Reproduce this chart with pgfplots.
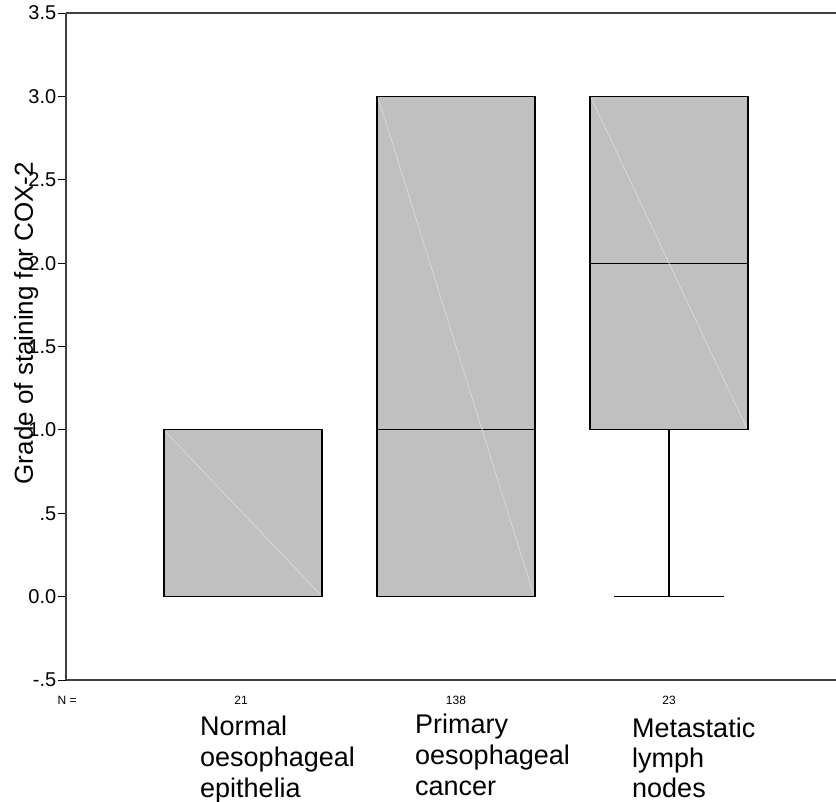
\documentclass[border=0pt]{standalone}
\usepackage{fontspec}
\setmainfont{Liberation Sans}
\usepackage{pgfplots}
\pgfplotsset{compat=1.18}
\usepgfplotslibrary{statistics}
\definecolor{boxgray}{HTML}{C0C0C0}
\definecolor{diaggray}{HTML}{DCDCDC}
\definecolor{axisgray}{HTML}{404040}
\begin{document}
\begin{tikzpicture}
\begin{axis}[
  at={(0pt,0pt)}, anchor=south west,
  width=770pt, height=667pt, scale only axis,
  xmin=0.169, xmax=3.784,
  ymin=-0.5, ymax=3.5,
  axis x line*=box, axis y line*=left,
  axis line style={draw=axisgray, line width=1.4pt},
  xtick=\empty,
  ytick={-0.5,0,0.5,1,1.5,2,2.5,3,3.5},
  yticklabels={-.5,0.0,.5,1.0,1.5,2.0,2.5,3.0,3.5},
  tick align=outside, ytick pos=left,
  major tick length=8pt,
  tick style={draw=black, line width=0.9pt},
  yticklabel style={font=\fontsize{20}{24}\selectfont, inner sep=1.5pt},
  clip=false,
  boxplot/draw direction=y,
]
\addplot+[mark=none, fill=boxgray, draw=black, line width=1.1pt,
  boxplot prepared={draw position=1, lower whisker=0, lower quartile=0,
    median=1, upper quartile=1, upper whisker=1,
    box extend=0.742, whisker extend=0.516}] coordinates {};
\addplot+[mark=none, fill=boxgray, draw=black, line width=1.1pt,
  boxplot prepared={draw position=2, lower whisker=0, lower quartile=0,
    median=1, upper quartile=3, upper whisker=3,
    box extend=0.742, whisker extend=0.516}] coordinates {};
\addplot+[mark=none, fill=boxgray, draw=black, line width=1.1pt,
  boxplot prepared={draw position=3, lower whisker=0, lower quartile=1,
    median=2, upper quartile=3, upper whisker=3,
    box extend=0.742, whisker extend=0.516}] coordinates {};
% faint diagonal artefacts inside the boxes
\addplot[draw=diaggray, line width=0.7pt] coordinates {(0.635,0.99) (1.365,0.01)};
\addplot[draw=diaggray, line width=0.7pt] coordinates {(1.635,2.99) (2.365,0.01)};
\addplot[draw=diaggray, line width=0.7pt] coordinates {(2.635,2.99) (3.365,1.01)};
% N row
\node[xshift=-12pt, yshift=-25pt, anchor=base west, font=\fontsize{12}{14}\selectfont] at (rel axis cs:0,0) {N =};
\node[xshift=-2pt, yshift=-25pt, anchor=base, font=\fontsize{12}{14}\selectfont] at (axis cs:1,-0.5) {21};
\node[yshift=-25pt, anchor=base, font=\fontsize{12}{14}\selectfont] at (axis cs:2,-0.5) {138};
\node[yshift=-25pt, anchor=base, font=\fontsize{12}{14}\selectfont] at (axis cs:3,-0.5) {23};
% category labels
\node[xshift=-43pt, yshift=-36pt, anchor=north west, align=left, inner sep=0pt, font=\fontsize{27}{31}\selectfont] at (axis cs:1,-0.5) {Normal\\oesophageal\\epithelia};
\node[xshift=-41pt, yshift=-34pt, anchor=north west, align=left, inner sep=0pt, font=\fontsize{27}{31}\selectfont] at (axis cs:2,-0.5) {Primary\\oesophageal\\cancer};
\node[xshift=-37pt, yshift=-38pt, anchor=north west, align=left, inner sep=0pt, font=\fontsize{27}{30}\selectfont] at (axis cs:3,-0.5) {Metastatic\\lymph\\nodes};
% y label
\node[xshift=-33pt, rotate=90, anchor=base, inner sep=0pt, font=\fontsize{26}{30}\selectfont] at (rel axis cs:0,0.535) {Grade of staining for COX-2};
\end{axis}
\pgfresetboundingbox
\path[use as bounding box] (-66pt,-122pt) rectangle (770pt,680pt);
\end{tikzpicture}
\end{document}
